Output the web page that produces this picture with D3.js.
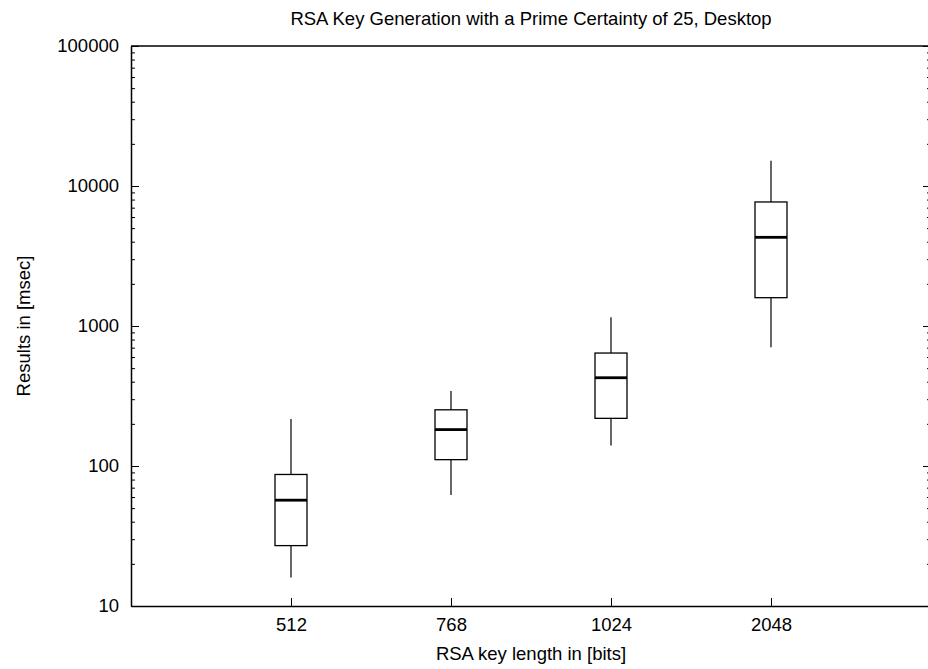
<!DOCTYPE html>
<html>
<head>
<meta charset="utf-8">
<script src="https://cdn.jsdelivr.net/npm/d3@7"></script>
<style>
body { margin: 0; background: #fff; }
svg { display: block; font-family: "Liberation Sans", Arial, sans-serif; }
.axis text { font-size: 18.5px; fill: #000; }
.axis path, .axis line { stroke: #000; }
</style>
</head>
<body>
<div class="container"></div>
<script>
var WIDTH = 928, HEIGHT = 669;
var MARGIN = {top: 46, right: -3, bottom: 63, left: 131};

// RSA key lengths and box statistics in msec
var categories = ["512", "768", "1024", "2048"];
var whiskerLow = [16, 62, 140, 705];
var boxLow = [27, 111, 219, 1593];
var medians = [57, 182, 427, 4300];
var boxHigh = [87, 252, 641, 7690];
var whiskerHigh = [217, 343, 1153, 15170];
var yTicks = [10, 100, 1000, 10000, 100000];

var title = "RSA Key Generation with a Prime Certainty of 25, Desktop";
var xLabel = "RSA key length in [bits]";
var yLabel = "Results in [msec]";

var boxes = categories.map(function(c, i){
    return {name: c, pos: i + 1, lo: whiskerLow[i], q1: boxLow[i], med: medians[i], q3: boxHigh[i], hi: whiskerHigh[i]};
});

var svg = d3.select('.container').append('svg')
            .attr('width', WIDTH)
            .attr('height', HEIGHT);

var x0 = MARGIN.left, x1 = WIDTH - MARGIN.right;
var y0 = HEIGHT - MARGIN.bottom, y1 = MARGIN.top;

var _xScale = d3.scaleLinear()
                .domain([0, categories.length + 1])
                .range([x0, x1]);

var _yScale = d3.scaleLog()
                .domain([10, 100000])
                .range([y0, y1]);

// minor ticks 2..9 in every decade
var minorTicks = [];
yTicks.slice(0, -1).forEach(function(t){
    d3.range(2, 10).forEach(function(k){ minorTicks.push(t * k); });
});

// left axis
svg.append('g')
   .attr('class', 'axis')
   .attr('transform', 'translate(' + x0 + ',0)')
   .call(d3.axisLeft(_yScale).tickValues(yTicks).tickFormat(d3.format('d'))
           .tickSizeInner(-8).tickSizeOuter(0).tickPadding(12))
   .call(function(g){ g.select('.domain').attr('stroke-width', 1.5); });

svg.append('g')
   .attr('class', 'axis')
   .attr('transform', 'translate(' + x0 + ',0)')
   .call(d3.axisLeft(_yScale).tickValues(minorTicks).tickFormat('').tickSize(-4))
   .call(function(g){ g.select('.domain').remove(); });

// right axis (mirrored ticks)
svg.append('g')
   .attr('class', 'axis')
   .attr('transform', 'translate(' + x1 + ',0)')
   .call(d3.axisRight(_yScale).tickValues(yTicks).tickFormat('').tickSizeInner(-8).tickSizeOuter(0))
   .call(function(g){ g.select('.domain').attr('stroke-width', 1.5); });

svg.append('g')
   .attr('class', 'axis')
   .attr('transform', 'translate(' + x1 + ',0)')
   .call(d3.axisRight(_yScale).tickValues(minorTicks).tickFormat('').tickSize(-4))
   .call(function(g){ g.select('.domain').remove(); });

// bottom axis
svg.append('g')
   .attr('class', 'axis')
   .attr('transform', 'translate(0,' + y0 + ')')
   .call(d3.axisBottom(_xScale).tickValues(boxes.map(function(d){ return d.pos; }))
           .tickFormat(function(d){ return categories[d - 1]; })
           .tickSizeInner(-8).tickSizeOuter(0).tickPadding(12))
   .call(function(g){ g.select('.domain').attr('stroke-width', 1.5); });

// top border
svg.append('line')
   .attr('x1', x0).attr('x2', x1)
   .attr('y1', y1).attr('y2', y1)
   .attr('stroke', '#000')
   .attr('stroke-width', 1.5);

// boxes
var half = 16;
var g = svg.append('g').classed('boxes', true);

var box = g.selectAll('g.box').data(boxes)
           .enter()
           .append('g')
           .classed('box', true);

box.append('line')
   .attr('x1', function(d){ return _xScale(d.pos); })
   .attr('x2', function(d){ return _xScale(d.pos); })
   .attr('y1', function(d){ return _yScale(d.hi); })
   .attr('y2', function(d){ return _yScale(d.q3); })
   .attr('stroke', '#000').attr('stroke-width', 1.2);

box.append('line')
   .attr('x1', function(d){ return _xScale(d.pos); })
   .attr('x2', function(d){ return _xScale(d.pos); })
   .attr('y1', function(d){ return _yScale(d.q1); })
   .attr('y2', function(d){ return _yScale(d.lo); })
   .attr('stroke', '#000').attr('stroke-width', 1.2);

box.append('rect')
   .attr('x', function(d){ return _xScale(d.pos) - half; })
   .attr('width', half * 2)
   .attr('y', function(d){ return _yScale(d.q3); })
   .attr('height', function(d){ return _yScale(d.q1) - _yScale(d.q3); })
   .attr('fill', 'none')
   .attr('stroke', '#000').attr('stroke-width', 1.3);

box.append('line')
   .attr('x1', function(d){ return _xScale(d.pos) - half; })
   .attr('x2', function(d){ return _xScale(d.pos) + half; })
   .attr('y1', function(d){ return _yScale(d.med); })
   .attr('y2', function(d){ return _yScale(d.med); })
   .attr('stroke', '#000').attr('stroke-width', 2.8);

// texts
svg.append('text')
   .attr('x', (x0 + x1) / 2).attr('y', 25)
   .attr('text-anchor', 'middle')
   .style('font-size', '18.5px')
   .text(title);

svg.append('text')
   .attr('x', (x0 + x1) / 2).attr('y', 660)
   .attr('text-anchor', 'middle')
   .style('font-size', '18.5px')
   .text(xLabel);

svg.append('text')
   .attr('transform', 'translate(30,' + ((y0 + y1) / 2) + ') rotate(-90)')
   .attr('text-anchor', 'middle')
   .style('font-size', '18.5px')
   .text(yLabel);
</script>
</body>
</html>
